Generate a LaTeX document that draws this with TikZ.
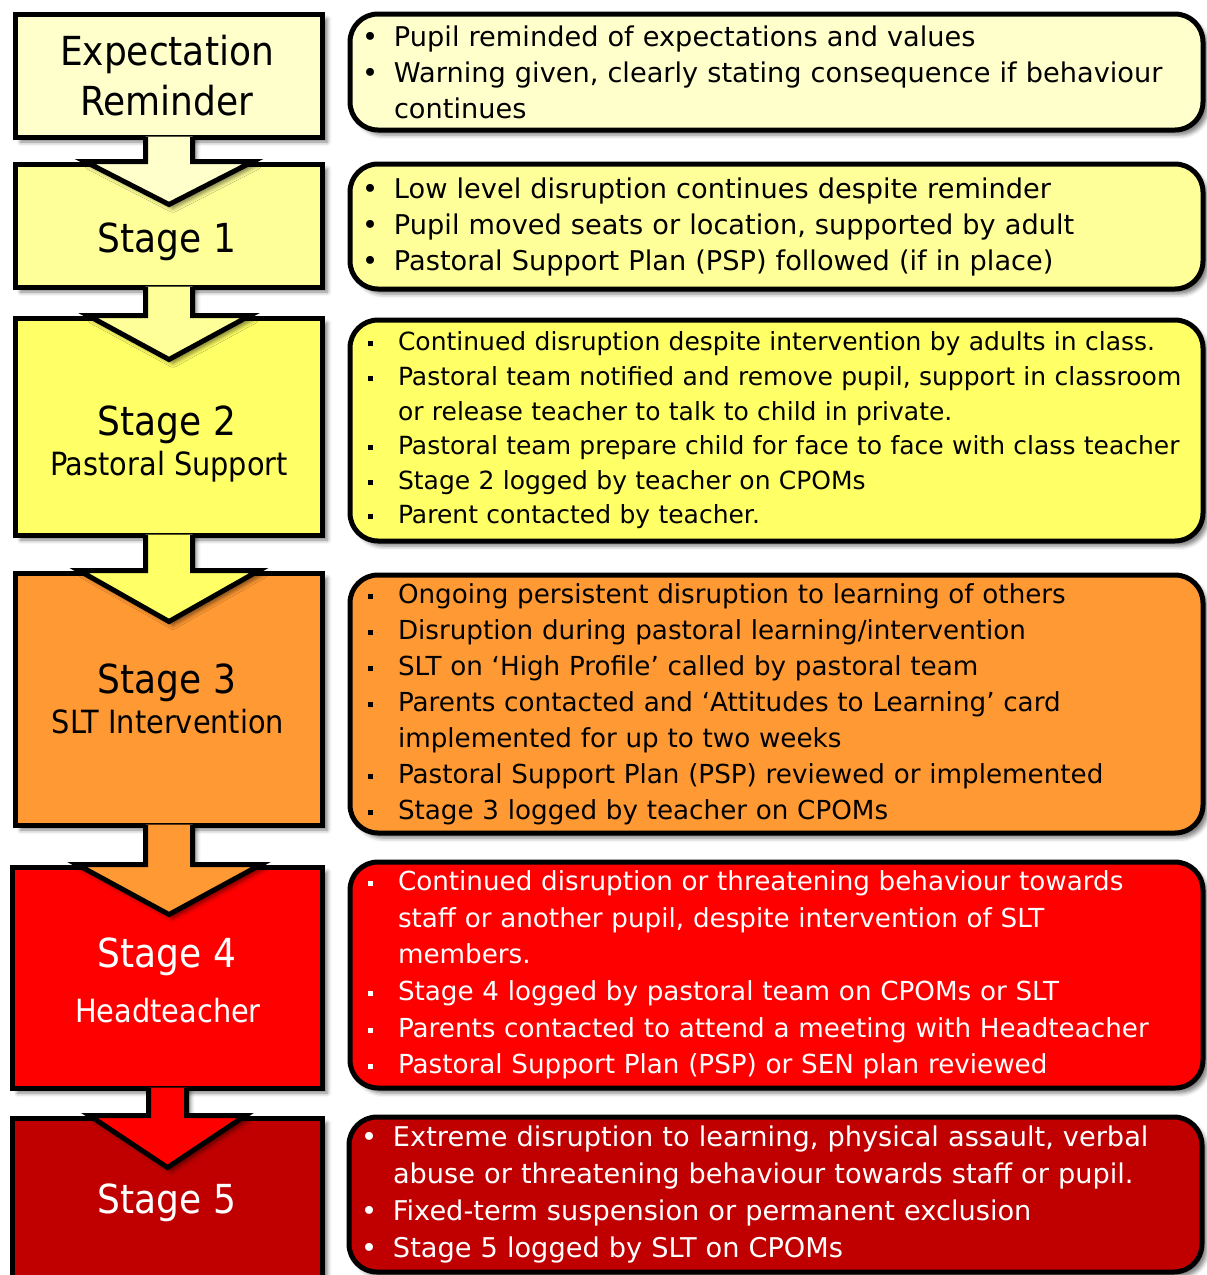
\documentclass[tikz,border=0pt]{standalone}
\usepackage{fontspec}
\IfFontExistsTF{DejaVu Sans Condensed}{\setmainfont{DejaVu Sans Condensed}}{\setmainfont{DejaVu Sans}}
\newfontfamily\notefont[Ligatures=TeX]{DejaVu Sans}
\usetikzlibrary{calc,shadows.blur}

\definecolor{lvlzero}{HTML}{FFFFCC}
\definecolor{lvlone}{HTML}{FFFF99}
\definecolor{lvltwo}{HTML}{FFFF66}
\definecolor{lvlthree}{HTML}{FF9933}
\definecolor{lvlfour}{HTML}{FF0000}
\definecolor{lvlfive}{HTML}{C00000}

\newlength{\bulw}
\setlength{\bulw}{32pt}
\newcommand{\itm}[1]{\mbox{\makebox[\bulw][l]{\textbullet}#1}}
\newcommand{\sqitm}[1]{\mbox{\makebox[\bulw][l]{\hspace{6pt}\rule[4.5pt]{5pt}{5pt}}#1}}
\newcommand{\cnt}[1]{\mbox{\hspace*{\bulw}#1}}

% block arrow: from, to, colour, stem half width, wing half width, depth
\newcommand{\stagearrow}[6]{%
  \fill[#3, blur shadow={shadow xshift=4pt, shadow yshift=-4pt, shadow blur radius=4pt, shadow opacity=50}]
    ($(#1.south)+(-#4,-3)$) -- ($(#2.north -| #1.south)+(-#4,0)$) -- ($(#2.north -| #1.south)+(-#5,0)$)
    -- ($(#2.north -| #1.south)+(0,#6)$) -- ($(#2.north -| #1.south)+(#5,0)$)
    -- ($(#2.north -| #1.south)+(#4,0)$) -- ($(#1.south)+(#4,-3)$) -- cycle;
  \draw[line width=5pt]
    ($(#1.south)+(-#4,-2.5)$) -- ($(#2.north -| #1.south)+(-#4,0)$) -- ($(#2.north -| #1.south)+(-#5,0)$)
    -- ($(#2.north -| #1.south)+(0,#6)$) -- ($(#2.north -| #1.south)+(#5,0)$)
    -- ($(#2.north -| #1.south)+(#4,0)$) -- ($(#1.south)+(#4,-2.5)$);
}

\begin{document}
\begin{tikzpicture}[x=1pt, y=-1pt,
    stagebox/.style={draw, line width=5pt, minimum width=307pt,
      blur shadow={shadow xshift=5pt, shadow yshift=-5pt, shadow blur radius=4pt, shadow opacity=50}},
    stagetitle/.style={anchor=base, font=\fontsize{40}{48}\selectfont},
    stagesub/.style={anchor=base, font=\fontsize{32}{38}\selectfont},
    note/.style={draw, line width=5pt, rounded corners=28pt, text width=829pt, inner xsep=12pt,
      align=left, font=\notefont\fontsize{27.2}{36}\selectfont,
      blur shadow={shadow xshift=5pt, shadow yshift=-5pt, shadow blur radius=4pt, shadow opacity=50}},
    wide bullet/.style={execute at begin node={\setlength{\bulw}{36pt}}}]
    \useasboundingbox (0,0) rectangle (1207,1275);

    %% stage boxes
    \node[stagebox, fill=lvlzero, minimum height=123pt] (expect) at (169,75.5) {};
    \node[stagebox, fill=lvlone, minimum height=123pt] (stage1) at (169,225.5) {};
    \node[stagebox, fill=lvltwo, minimum height=217pt] (stage2) at (169,426.5) {};
    \node[stagebox, fill=lvlthree, minimum height=252pt] (stage3) at (169,699) {};
    \node[stagebox, fill=lvlfour, minimum height=221pt, minimum width=310pt] (stage4) at (167.5,977.5) {};
    \node[stagebox, fill=lvlfive, minimum height=182pt, minimum width=310pt] (stage5) at (167.5,1209) {};

    %% arrows between stages
    \stagearrow{expect}{stage1}{lvlzero}{23.5}{84}{43}
    \stagearrow{stage1}{stage2}{lvlone}{23.5}{81}{44}
    \stagearrow{stage2}{stage3}{lvltwo}{23.5}{90}{51}
    \stagearrow{stage3}{stage4}{lvlthree}{23.5}{92}{50}
    \stagearrow{stage4}{stage5}{lvlfour}{19}{78}{52}

    %% stage names
    \node[stagetitle] (expectA) at (167,65) {Expectation};
    \node[stagetitle] (expectB) at (167,115) {Reminder};
    \node[stagetitle] (stage1A) at (167,252) {Stage 1};
    \node[stagetitle] (stage2A) at (167,435) {Stage 2};
    \node[stagesub] (stage2B) at (169,475) {Pastoral Support};
    \node[stagetitle] (stage3A) at (167,693) {Stage 3};
    \node[stagesub] (stage3B) at (168,733) {SLT Intervention};
    \node[stagetitle, text=white] (stage4A) at (167,967) {Stage 4};
    \node[stagesub, text=white] (stage4B) at (168,1022) {Headteacher};
    \node[stagetitle, text=white] (stage5A) at (167,1213) {Stage 5};

    %% notes
    \node[note, fill=lvlzero, minimum height=116pt] (note0) at (776.5,72) {%
      \itm{Pupil reminded of expectations and values}\\
      \itm{Warning given, clearly stating consequence if behaviour}\\
      \cnt{continues}};
    \node[note, fill=lvlone, minimum height=125pt] (note1) at (776.5,226.5) {%
      \itm{Low level disruption continues despite reminder}\\
      \itm{Pupil moved seats or location, supported by adult}\\
      \itm{Pastoral Support Plan (PSP) followed (if in place)}};
    \node[note, wide bullet, fill=lvltwo, minimum height=221pt, font=\notefont\fontsize{25}{34.6}\selectfont] (note2) at (776.5,430.5) {%
      \sqitm{Continued disruption despite intervention by adults in class.}\\
      \sqitm{Pastoral team notified and remove pupil, support in classroom}\\
      \cnt{or release teacher to talk to child in private.}\\
      \sqitm{Pastoral team prepare child for face to face with class teacher}\\
      \sqitm{Stage 2 logged by teacher on CPOMs}\\
      \sqitm{Parent contacted by teacher.}};
    \node[note, wide bullet, fill=lvlthree, minimum height=258pt, font=\notefont\fontsize{26.2}{36}\selectfont] (note3) at (776.5,704) {%
      \sqitm{Ongoing persistent disruption to learning of others}\\
      \sqitm{Disruption during pastoral learning/intervention}\\
      \sqitm{SLT on ‘High Profile’ called by pastoral team}\\
      \sqitm{Parents contacted and ‘Attitudes to Learning’ card}\\
      \cnt{implemented for up to two weeks}\\
      \sqitm{Pastoral Support Plan (PSP) reviewed or implemented}\\
      \sqitm{Stage 3 logged by teacher on CPOMs}};
    \node[note, wide bullet, fill=lvlfour, text=white, minimum height=226pt, font=\notefont\fontsize{26.2}{36.6}\selectfont] (note4) at (776.5,975) {%
      \sqitm{Continued disruption or threatening behaviour towards}\\
      \cnt{staff or another pupil, despite intervention of SLT}\\
      \cnt{members.}\\
      \sqitm{Stage 4 logged by pastoral team on CPOMs or SLT}\\
      \sqitm{Parents contacted to attend a meeting with Headteacher}\\
      \sqitm{Pastoral Support Plan (PSP) or SEN plan reviewed}};
    \node[note, fill=lvlfive, text=white, minimum height=155pt, font=\notefont\fontsize{27.2}{37}\selectfont] (note5) at (775.5,1194.5) {%
      \itm{Extreme disruption to learning, physical assault, verbal}\\
      \cnt{abuse or threatening behaviour towards staff or pupil.}\\
      \itm{Fixed-term suspension or permanent exclusion}\\
      \itm{Stage 5 logged by SLT on CPOMs}};
\end{tikzpicture}
\end{document}
